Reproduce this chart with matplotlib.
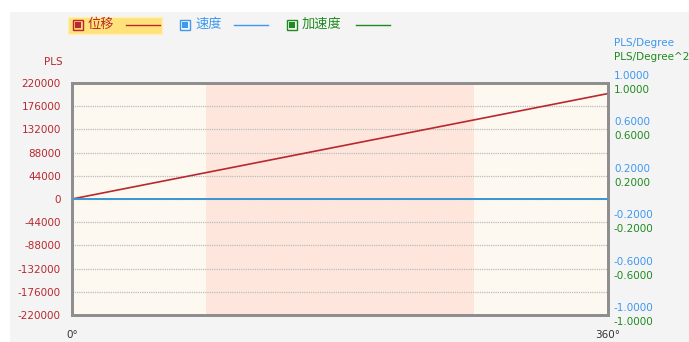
import matplotlib
matplotlib.use("Agg")
import matplotlib.pyplot as plt
from matplotlib.patches import Rectangle
from matplotlib.transforms import offset_copy, blended_transform_factory

plt.rcParams['font.family'] = ['DejaVu Sans', 'Noto Sans CJK SC']

# ---- data ----
angles = [0, 90, 180, 270, 360]
displacement = [0, 50000, 100000, 150000, 200000]
velocity = [0, 0, 0, 0, 0]
acceleration = [0, 0, 0, 0, 0]
band_range = [90, 270]
left_ticks = [220000, 176000, 132000, 88000, 44000, 0, -44000, -88000, -132000, -176000, -220000]
right_ticks = [1.0, 0.6, 0.2, -0.2, -0.6, -1.0]
x_ticks = [0, 360]
x_tick_labels = ["0°", "360°"]
legend_names = ["位移", "速度", "加速度"]

RED = "#b8282e"
BLUE = "#3d98f0"
GREEN = "#1f8a1f"

W, H = 689, 342
fig = plt.figure(figsize=(W / 100, H / 100), dpi=100)
fig.patch.set_facecolor("white")
fig.add_artist(Rectangle((10 / W, 0), 1 - 10 / W, 1 - 12 / H, transform=fig.transFigure,
                         facecolor="#f4f4f4", edgecolor="none", zorder=-10))

L, R, T, B = 72, 608, 83, 315
ax = fig.add_axes([L / W, 1 - B / H, (R - L) / W, (B - T) / H])
ax.set_facecolor("#fdf8f0")
ax.set_xlim(0, 360)
ax.set_ylim(-220000, 220000)
ax.axvspan(band_range[0], band_range[1], color="#fee6dc", zorder=0, lw=0)

for t in left_ticks[1:-1]:
    ax.axhline(t, color="#bdbdbd", lw=0.9, ls=(0, (1, 0.8)), zorder=1)

ax.plot(angles, displacement, color=RED, lw=1.2, zorder=4)

ax2 = ax.twinx()
ax2.set_ylim(-1, 1)
ax2.set_yticks([])
ax2.patch.set_visible(False)
ax2.plot(angles, acceleration, color=GREEN, lw=1.2, zorder=2)
ax2.plot(angles, velocity, color=BLUE, lw=1.2, zorder=3)

for a in (ax, ax2):
    for s in a.spines.values():
        s.set_color("#8e8e8e")
        s.set_linewidth(2)

ax.set_yticks(left_ticks)
ax.set_yticklabels([str(t) for t in left_ticks], color=RED, fontsize=7.5)
ax.tick_params(axis="y", length=0, pad=8)
ax.set_xticks(x_ticks)
ax.set_xticklabels(x_tick_labels, fontsize=7.5, color="#333333")
ax.tick_params(axis="x", length=0, pad=11)

# right axis labels (blue above, green below)
bt = blended_transform_factory(ax2.transAxes, ax2.transData)
for t in right_ticks:
    ax2.text(1.0, t, f"{t:.4f}", transform=offset_copy(bt, fig=fig, x=6, y=7, units="dots"),
             color=BLUE, fontsize=7.5, ha="left", va="center")
    ax2.text(1.0, t, f"{t:.4f}", transform=offset_copy(bt, fig=fig, x=6, y=-7, units="dots"),
             color=GREEN, fontsize=7.5, ha="left", va="center")


def fx(px):
    return px / W


def fy(py):
    return 1 - py / H


fig.text(fx(63), fy(62), "PLS", color=RED, fontsize=7.5, ha="right", va="center")
fig.text(fx(614), fy(43), "PLS/Degree", color=BLUE, fontsize=7.5, ha="left", va="center")
fig.text(fx(614), fy(57), "PLS/Degree^2", color=GREEN, fontsize=7.5, ha="left", va="center")

# legend
fig.add_artist(Rectangle((fx(68), fy(34)), (162 - 68) / W, (34 - 17) / H, transform=fig.transFigure,
                         facecolor="#ffe27a", edgecolor="#fff0b8", lw=1.0, zorder=1))
items = [(73, 88, 126, 160, RED), (180, 195, 234, 268, BLUE), (287, 302, 356, 390, GREEN)]
for (sx, tx, lx0, lx1, col), name in zip(items, legend_names):
    fig.add_artist(Rectangle((fx(sx), fy(30)), 10 / W, 10 / H, transform=fig.transFigure,
                             facecolor="#f7f7f7" if col != RED else "#ffd27a", edgecolor=col, lw=1.0, zorder=2))
    fig.add_artist(Rectangle((fx(sx + 2), fy(28)), 6 / W, 6 / H, transform=fig.transFigure,
                             facecolor=col, edgecolor="none", zorder=3))
    fig.text(fx(tx), fy(24.5), name, color=col, fontsize=9.5, ha="left", va="center",
             family=["Noto Sans CJK SC", "DejaVu Sans"], zorder=3)
    fig.add_artist(plt.Line2D([fx(lx0), fx(lx1)], [fy(25), fy(25)], transform=fig.transFigure,
                              color=col, lw=1.0, zorder=3))

fig.savefig("out.png", dpi=100)
